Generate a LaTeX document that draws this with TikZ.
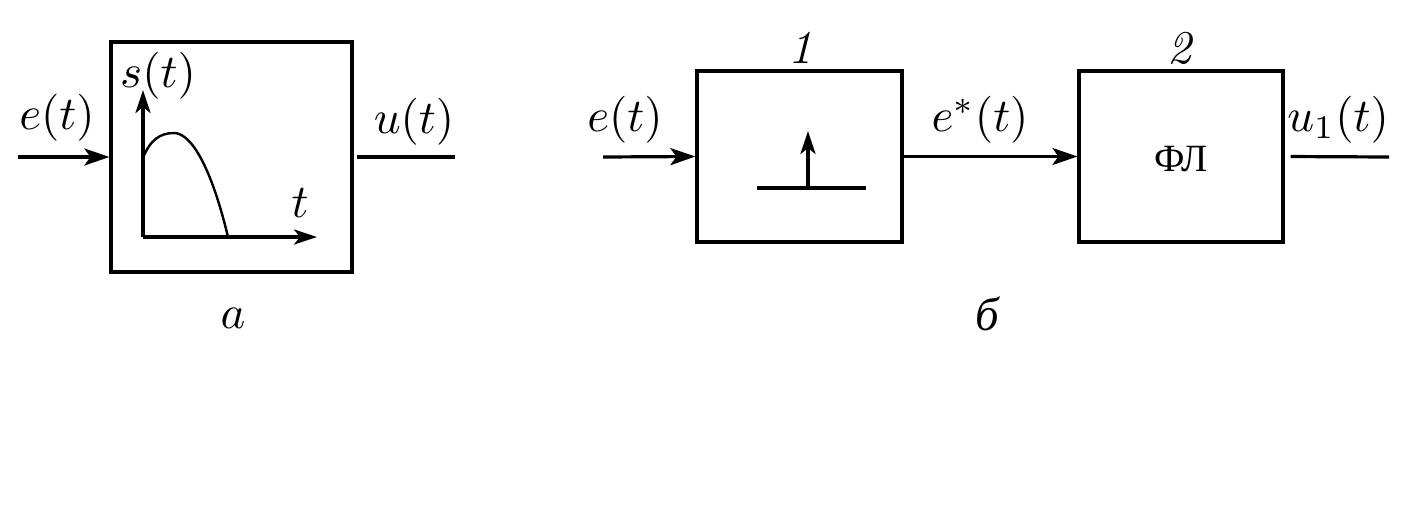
\documentclass[tikz,border=0pt]{standalone}
\usepackage{fontspec}
\newfontfamily\cyrfont{Liberation Serif}
\usetikzlibrary{arrows.meta}
\begin{document}
\begin{tikzpicture}[x=1pt,y=-1pt,
  txt/.style={scale=4.7, inner sep=0pt},
  blk/.style={draw, line width=3.2pt, minimum width=#1, inner sep=0pt},
  ln/.style={line width=3.2pt},
  arr/.style={line width=3.2pt, -{Stealth[length=25pt,width=17pt,inset=6pt]}},
  axarr/.style={line width=3.2pt, -{Stealth[length=23pt,width=15pt,inset=6pt]}}]
\useasboundingbox (0,0) rectangle (1423,514);
% part a
\node[blk=241pt, minimum height=230pt] (A) at (231.5,157) {};
\coordinate (ain) at (18,157);
\coordinate (aout) at (455,157);
\draw[arr] (ain) -- (A.west);
\draw[ln, shorten <=3pt] (A.east) -- (aout);
\node[txt] (le) at (57,118) {$e(t)$};
\node[txt] (lu) at (414,122) {$u(t)$};
\coordinate (o) at (143,237);
\coordinate (yt) at (143,90);
\coordinate (xt) at (317,237);
\draw[axarr] (o) -- (yt);
\draw[axarr] (o) -- (xt);
\draw[line width=2.4pt] (143,158) .. controls (150,140) and (160,133) .. (174,133) .. controls (192,133) and (212,170) .. (228,237);
\node[txt] (ls) at (158,76) {$s(t)$};
\node[txt] (lt) at (300,203) {$t$};
\node[txt] (la) at (233,318) {$a$};
% part b
\node[blk=205pt, minimum height=171pt] (B1) at (799.5,156.5) {};
\node[blk=204pt, minimum height=171pt] (B2) at (1181,156.5) {};
\node[txt] (fl) at (1181,159) {\cyrfont\fontsize{8.2}{9}\selectfont ФЛ};
\node[txt] (n1) at (800,48) {\textit{1}};
\node[txt] (n2) at (1180,48) {\textit{2}};
\coordinate (bin) at (603,157);
\coordinate (bout) at (1389,157);
\draw[arr] (bin) -- (B1.west);
\draw[arr] (B1.east) -- (B2.west);
\draw[ln, shorten <=6pt] (B2.east) -- (bout);
\node[txt] (le2) at (625,120) {$e(t)$};
\node[txt] (les) at (980,120) {$e^*(t)$};
\node[txt] (lu1) at (1338,120) {$u_1(t)$};
\coordinate (h1) at (757,188);
\coordinate (h2) at (866,188);
\coordinate (vb) at (808,188);
\coordinate (vt) at (808,131);
\draw[ln] (h1) -- (h2);
\draw[axarr] (vb) -- (vt);
\node[txt] (lb) at (987,314) {\cyrfont\itshape\fontsize{10}{12}\selectfont б};
\end{tikzpicture}
\end{document}
